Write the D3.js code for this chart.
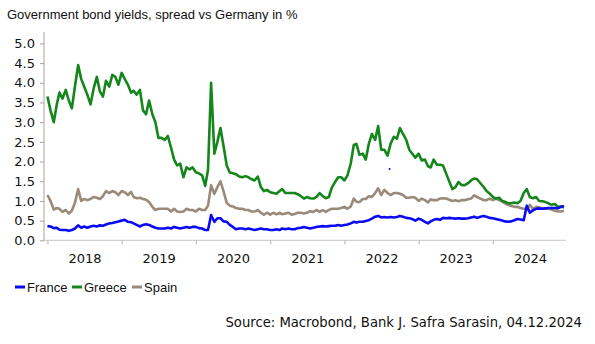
<!DOCTYPE html>
<html>
<head>
<meta charset="utf-8">
<script src="https://cdn.jsdelivr.net/npm/d3@7"></script>
<style>
  body { margin: 0; background: #fff; }
  svg { display: block; }
</style>
</head>
<body>
<div id="chart"></div>
<script>
// semi-monthly observations (1st and 16th), Jan 2018 - Dec 2024, spread vs Bunds in %
var greeceSpread = [
  3.65, 3.3, 3.0, 3.45, 3.75, 3.6, 3.82, 3.55, 3.35, 3.9,
  4.45, 4.1, 3.9, 3.7, 3.45, 3.85, 4.15, 3.78, 3.65, 4.05,
  3.9, 4.2, 4.15, 3.95, 4.25, 4.1, 3.95, 3.75, 3.8, 3.7,
  3.82, 3.3, 3.2, 3.55, 3.2, 3.0, 2.6, 2.6, 2.55, 2.65,
  2.35, 2.05, 1.9, 1.95, 1.6, 1.85, 1.8, 1.85, 1.73, 1.7,
  1.65, 1.38, 1.8, 4.0, 2.2, 2.5, 2.85, 2.4, 1.9, 1.72,
  1.7, 1.68, 1.62, 1.6, 1.63, 1.6, 1.55, 1.52, 1.62, 1.35,
  1.25, 1.28, 1.22, 1.2, 1.18, 1.25, 1.3, 1.2, 1.2, 1.2,
  1.2, 1.17, 1.12, 1.06, 1.1, 1.07, 1.06, 1.1, 1.2, 1.12,
  1.07, 1.1, 1.35, 1.48, 1.6, 1.6, 1.52, 1.65, 1.95, 2.42,
  2.45, 2.17, 2.2, 2.05, 2.45, 2.7, 2.55, 2.9, 2.3, 2.3,
  2.15, 2.45, 2.63, 2.58, 2.85, 2.7, 2.55, 2.3, 2.2, 2.1,
  2.2, 2.03, 2.05, 1.88, 1.85, 2.05, 1.92, 1.92, 1.9, 1.7,
  1.49, 1.3, 1.35, 1.48, 1.4, 1.4, 1.45, 1.52, 1.57, 1.55,
  1.45, 1.36, 1.25, 1.19, 1.1, 1.06, 1.08, 1.0, 0.98, 0.94,
  0.94, 0.96, 0.94, 1.0, 1.2, 1.3, 1.1, 1.07, 1.1, 1.0,
  0.99, 0.97, 0.94, 0.9, 0.92, 0.85, 0.86, 0.83
];
var spainSpread = [
  1.15, 1.0, 0.78, 0.82, 0.8, 0.72, 0.77, 0.68, 0.75, 0.95,
  1.3, 1.0, 1.05, 1.02, 1.05, 1.1, 1.08, 1.05, 1.12, 1.25,
  1.2, 1.25, 1.22, 1.15, 1.25, 1.22, 1.15, 1.23, 1.1, 1.07,
  1.08, 1.05, 1.03, 0.97, 0.85, 0.77, 0.8, 0.8, 0.8, 0.8,
  0.73, 0.8, 0.73, 0.72, 0.73, 0.8, 0.77, 0.77, 0.73, 0.8,
  0.77, 0.77, 0.88, 1.4, 1.18, 1.35, 1.5, 1.25, 0.95, 0.88,
  0.86, 0.82, 0.8, 0.8, 0.77, 0.77, 0.73, 0.73, 0.77, 0.7,
  0.65, 0.7, 0.65, 0.7, 0.66, 0.7, 0.66, 0.68, 0.7, 0.65,
  0.67, 0.7, 0.7, 0.68, 0.7, 0.74, 0.72, 0.77, 0.72, 0.77,
  0.72, 0.77, 0.8, 0.8, 0.8, 0.82, 0.85, 0.8, 0.86, 1.06,
  0.98, 0.97, 1.05, 1.05, 1.12, 1.1, 1.2, 1.32, 1.15, 1.28,
  1.2, 1.15, 1.2, 1.2, 1.18, 1.15, 1.08, 1.08, 1.1, 1.08,
  1.0, 1.06, 1.02, 0.96, 1.04, 1.02, 1.02, 1.06, 1.07, 1.06,
  1.03, 1.0, 1.02, 0.99, 1.02, 1.02, 1.04, 1.06, 1.14, 1.1,
  1.06, 1.02, 1.02, 1.06, 1.02, 1.06, 1.02, 0.98, 0.94, 0.9,
  0.87, 0.85, 0.85, 0.82, 0.8, 0.78, 0.9, 0.8, 0.85, 0.83,
  0.81, 0.8, 0.8, 0.78, 0.75, 0.73, 0.73, 0.75
];
var franceSpread = [
  0.36, 0.35, 0.31, 0.32, 0.27, 0.26, 0.26, 0.24, 0.26, 0.3,
  0.38, 0.32, 0.35, 0.32, 0.35, 0.37, 0.35, 0.38, 0.37, 0.4,
  0.43, 0.44, 0.46, 0.48, 0.5, 0.52, 0.47, 0.46, 0.43, 0.39,
  0.35, 0.39, 0.41, 0.39, 0.35, 0.32, 0.3, 0.3, 0.3, 0.32,
  0.3, 0.34, 0.32, 0.3, 0.32, 0.34, 0.32, 0.34, 0.34, 0.31,
  0.3, 0.26, 0.26, 0.64, 0.47, 0.56, 0.56, 0.48, 0.47, 0.39,
  0.34, 0.28, 0.3, 0.3, 0.28, 0.3, 0.28, 0.26, 0.28, 0.3,
  0.28, 0.28, 0.26, 0.26, 0.28, 0.26, 0.3, 0.28, 0.3, 0.28,
  0.28, 0.31, 0.32, 0.34, 0.32, 0.3, 0.32, 0.34, 0.35, 0.36,
  0.35, 0.36, 0.37, 0.37, 0.39, 0.37, 0.39, 0.4, 0.43, 0.47,
  0.45, 0.47, 0.47, 0.49, 0.51, 0.55, 0.6, 0.62, 0.58, 0.59,
  0.58, 0.59, 0.58, 0.59, 0.62, 0.6, 0.57, 0.56, 0.54, 0.5,
  0.55, 0.52, 0.47, 0.43, 0.48, 0.52, 0.54, 0.52, 0.57, 0.56,
  0.57, 0.56, 0.55, 0.56, 0.55, 0.55, 0.56, 0.58, 0.6, 0.57,
  0.6, 0.62, 0.6, 0.57, 0.56, 0.54, 0.52, 0.5, 0.48, 0.47,
  0.48, 0.51, 0.54, 0.53, 0.51, 0.88, 0.7, 0.76, 0.8, 0.81,
  0.8, 0.81, 0.82, 0.82, 0.82, 0.81, 0.85, 0.87
];
// stray single France print in the source series
var franceStray = [[new Date(2022, 7, 11), 1.81]];

var years = [2018, 2019, 2020, 2021, 2022, 2023, 2024];
var yTicks = [0, 0.5, 1, 1.5, 2, 2.5, 3, 3.5, 4, 4.5, 5];

var series = [
  {name: 'Spain', values: spainSpread, color: '#9a8a79'},
  {name: 'Greece', values: greeceSpread, color: '#14861b'},
  {name: 'France', values: franceSpread, color: '#0a0af5'}
];
var legendOrder = ['France', 'Greece', 'Spain'];

var width = 595, height = 344;
var dates = d3.range(greeceSpread.length).map(i => new Date(2018, Math.floor(i / 2), i % 2 ? 16 : 1));

var svg = d3.select('#chart').append('svg').attr('width', width).attr('height', height);

svg.append('text')
  .attr('x', 7).attr('y', 19)
  .attr('font-family', 'Liberation Sans, Arial, sans-serif')
  .attr('font-size', 13).attr('fill', '#111')
  .text('Government bond yields, spread vs Germany in %');

var x = d3.scaleTime().domain([new Date(2017, 11, 15), new Date(2024, 11, 26)]).range([44, 566]);
var y = d3.scaleLinear().domain([0, 5.29]).range([240.3, 32]);

// x axis: year boundary ticks, labels centred on each year
var xAxis = svg.append('g').attr('transform', 'translate(0,240.3)')
  .call(d3.axisBottom(x).tickValues(years.map(yr => new Date(yr, 0, 1))).tickSize(4).tickFormat(''));
xAxis.select('.domain').attr('stroke', '#c9c6c2').attr('d', 'M42.7,0H566');
xAxis.selectAll('.tick line').attr('stroke', '#b9b4ad');

var xLabels = svg.append('g').attr('transform', 'translate(0,240.3)')
  .call(d3.axisBottom(x).tickValues(years.map(yr => new Date(yr, 6, 2))).tickSize(0).tickPadding(13).tickFormat(d3.timeFormat('%Y')));
xLabels.select('.domain').remove();
xLabels.selectAll('text').attr('font-family', 'DejaVu Sans, sans-serif').attr('font-size', 13).attr('fill', '#111');

var yAxis = svg.append('g').attr('transform', 'translate(44,0)')
  .call(d3.axisLeft(y).tickValues(yTicks).tickSize(4).tickPadding(5).tickFormat(d3.format('.1f')));
yAxis.select('.domain').attr('stroke', '#aaa297').attr('d', 'M0,32V240.3');
yAxis.selectAll('.tick line').attr('stroke', '#aaa297');
yAxis.selectAll('text').attr('font-family', 'DejaVu Sans, sans-serif').attr('font-size', 13).attr('fill', '#111');

var line = d3.line()
  .x((d, i) => x(dates[i]))
  .y(d => y(d));

svg.append('g').selectAll('path').data(series).enter().append('path')
  .attr('d', d => line(d.values))
  .attr('fill', 'none')
  .attr('stroke', d => d.color)
  .attr('stroke-width', 2.6)
  .attr('stroke-linejoin', 'round');

svg.selectAll('.stray').data(franceStray).enter().append('circle')
  .attr('class', 'stray')
  .attr('cx', d => x(d[0])).attr('cy', d => y(d[1])).attr('r', 1)
  .attr('fill', '#0a0af5');

// legend
var legendX = [15, 72, 132];
var legend = svg.append('g').selectAll('g').data(legendOrder).enter().append('g')
  .attr('transform', (d, i) => `translate(${legendX[i]},287)`);
legend.append('line')
  .attr('x1', 0).attr('x2', 10)
  .attr('stroke', d => series.find(s => s.name === d).color)
  .attr('stroke-width', 3);
legend.append('text')
  .attr('x', 12).attr('y', 4.5)
  .attr('font-family', 'Liberation Sans, Arial, sans-serif')
  .attr('font-size', 13).attr('fill', '#111')
  .text(d => d);

svg.append('text')
  .attr('x', 582).attr('y', 326.5)
  .attr('text-anchor', 'end')
  .attr('font-family', 'DejaVu Sans, sans-serif')
  .attr('font-size', 13.2).attr('fill', '#111')
  .text('Source: Macrobond, Bank J. Safra Sarasin, 04.12.2024');
</script>
</body>
</html>
